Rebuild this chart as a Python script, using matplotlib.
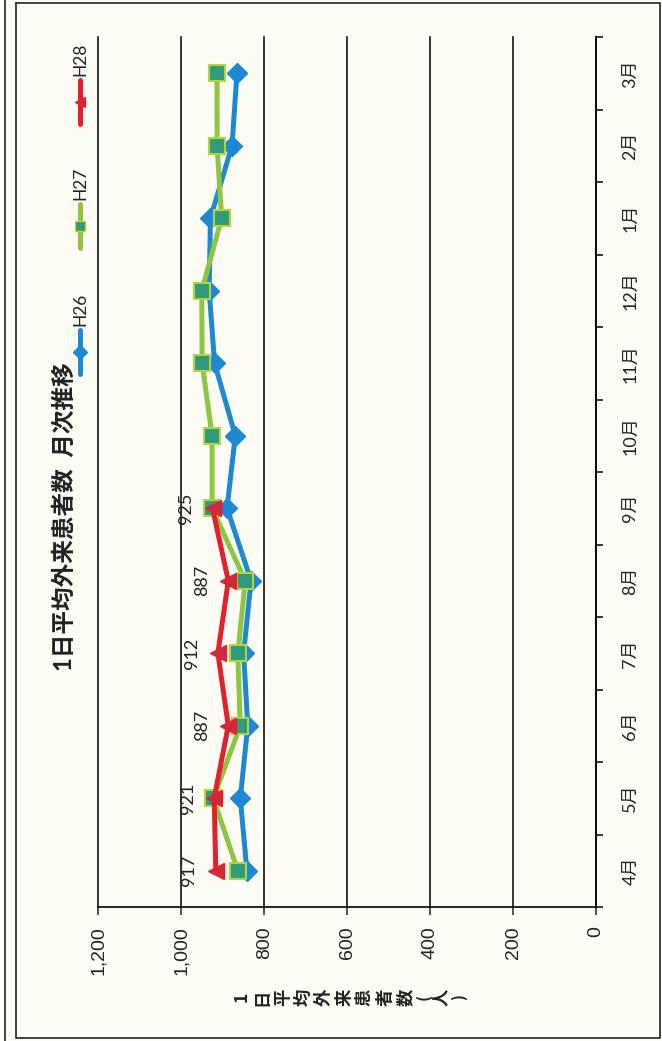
import matplotlib
matplotlib.use("Agg")
import matplotlib.pyplot as plt
from matplotlib.lines import Line2D
from matplotlib.ticker import FuncFormatter, FixedLocator, NullFormatter
import numpy as np

# data
months = ['4月', '5月', '6月', '7月', '8月', '9月', '10月', '11月', '12月', '1月', '2月', '3月']
h26 = [842, 858, 840, 850, 832, 890, 870, 920, 933, 930, 878, 866]
h27 = [864, 923, 858, 864, 846, 926, 926, 950, 951, 903, 914, 914]
h28 = [917, 921, 887, 912, 887, 925]

title = '1日平均外来患者数  月次推移'
ylabel_chars = list('1日平均外来患者数(人)')

W, H = 662, 1041
bg = '#fcfcf4'
blue = '#1f88d2'
green = '#8dc641'
green_face = '#2f9a7c'
green_edge = '#b5d33a'
red = '#e3202c'
red_face = '#cf2a3c'

jp = ['Lato', 'Noto Sans CJK JP', 'DejaVu Sans']
plt.rcParams['font.family'] = jp

fig = plt.figure(figsize=(W / 100, H / 100), dpi=100, facecolor=bg)


def fx(px):
    return px / W


def fy(py):
    return 1 - py / H


# plot area (chart is drawn rotated: months go up, values go left)
ax = fig.add_axes([fx(98.5), fy(907), fx(596) - fx(98.5), fy(37) - fy(907)])
ax.set_facecolor('none')

ypos = np.arange(len(months))
ax.plot(h26, ypos, color=blue, lw=3.6, marker='D', ms=10.5, mfc=blue, mec=blue, zorder=3)
ax.plot(h27, ypos, color=green, lw=3.6, marker='s', ms=12, mfc=green_face, mec=green_edge,
        mew=1.5, zorder=4)
ax.plot(h28, ypos[:len(h28)], color=red, lw=3.6, marker='<', ms=11, mfc=red_face, mec=red,
        zorder=5)

for i, v in enumerate(h28):
    ax.annotate(str(v), (v, ypos[i]), xytext=(-19, 0), textcoords='offset points',
                rotation=90, ha='center', va='center', fontsize=13, color='#222222')

ax.set_xlim(1200, 0)
ax.set_ylim(-0.5, len(months) - 0.5)

ax.set_xticks(np.arange(0, 1201, 200))
ax.xaxis.set_major_formatter(FuncFormatter(lambda v, p: f'{int(v):,}'))
for lab in ax.get_xticklabels():
    lab.set_rotation(90)
ax.tick_params(axis='x', direction='out', length=6, width=1.1, pad=8, labelsize=14,
               colors='#222222', labelfontfamily='Liberation Sans')
ax.grid(axis='x', color='#111111', lw=1.2)
ax.set_axisbelow(True)
for gl in ax.get_xgridlines():
    gl.set_clip_on(False)

ax.yaxis.tick_right()
ax.yaxis.set_major_locator(FixedLocator(np.arange(-0.5, len(months), 1)))
ax.yaxis.set_major_formatter(NullFormatter())
ax.yaxis.set_minor_locator(FixedLocator(ypos))
ax.set_yticklabels(months, minor=True, rotation=90, va='center')
ax.tick_params(axis='y', which='major', direction='out', length=5, width=1.1, right=True,
               left=False)
ax.tick_params(axis='y', which='minor', length=0, pad=19, labelsize=13, colors='#222222',
               right=True, left=False)

for s in ['top', 'left']:
    ax.spines[s].set_visible(False)
ax.spines['right'].set_linewidth(1.2)
ax.spines['bottom'].set_linewidth(1.2)

# title
fig.text(fx(64), fy(517), title, rotation=90, ha='center', va='center', fontsize=17,
         fontweight='bold', color='#222222')

# axis label, stacked characters turned on their side
steps = [20.5] * 8 + [18, 17, 18]
xp = 242
for k, ch in enumerate(ylabel_chars):
    fig.text(fx(xp), fy(997), ch, rotation=90, ha='center', va='center',
             fontsize=11.5 if ch in '()' else 12.5, fontweight='bold', color='#222222',
             family=['Noto Sans CJK JP', 'DejaVu Sans'])
    if k < len(steps):
        xp += steps[k]

# legend
legend_items = [
    ('H26', blue, 'D', blue, blue, 326),
    ('H27', green, 's', green_face, green_edge, 200),
    ('H28', red, '<', red_face, red, 76),
]
for name, col, mk, mf, me, ytxt in legend_items:
    y0, y1 = ytxt + 4, ytxt + 48
    fig.add_artist(Line2D([fx(80), fx(80)], [fy(y0), fy(y1)], color=col, lw=3.6,
                          solid_capstyle='round'))
    fig.add_artist(Line2D([fx(80)], [fy((y0 + y1) / 2)], marker=mk, ms=7, mfc=mf, mec=me,
                          lw=0))
    fig.text(fx(80), fy(ytxt), name, rotation=90, ha='center', va='bottom', fontsize=12.5,
             color='#222222')

# scanned page frame
fig.add_artist(Line2D([fx(16), fx(660), fx(660), fx(16), fx(16)],
                      [fy(3), fy(3), fy(1038), fy(1038), fy(3)], color='#333333', lw=1.3))
fig.add_artist(Line2D([fx(5), fx(5)], [fy(0), fy(1041)], color='#333333', lw=1.3))

fig.savefig('out.png', dpi=100, facecolor=bg)
